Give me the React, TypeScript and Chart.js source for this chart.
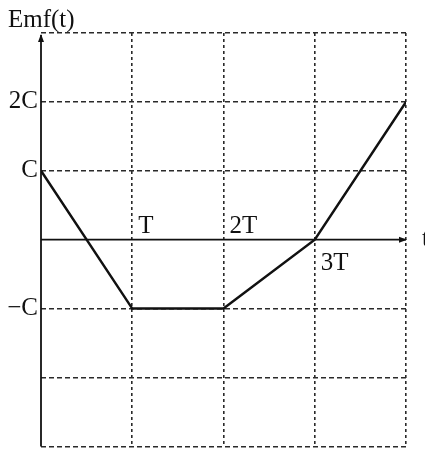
import React, { useEffect, useRef } from "react";
import { Chart, registerables } from "chart.js";
Chart.register(...registerables);

const timeValues = [0, 1, 2, 3, 4];
const emfValues = [1, -1, -1, 0, 2];
const yTickValues = [2, 1, -1];
const yTickLabels = ["2C", "C", "−C"];
const xTickValues = [1, 2, 3];
const xTickLabels = ["T", "2T", "3T"];
const xLabelAbove = [true, true, false];
const yAxisTitle = "Emf(t)";
const xAxisTitle = "t";

const FONT = "'Liberation Serif', 'DejaVu Serif', 'Times New Roman', serif";
const INK = "#111";
const GRID = "#2a2a2a";

export default function App() {
  const ref = useRef<HTMLCanvasElement>(null);

  useEffect(() => {
    const canvas = ref.current!;
    const axesPlugin = {
      id: "axesOverlay",
      afterDatasetsDraw(chart: any) {
        const { ctx, chartArea, scales } = chart;
        const xs = scales.x;
        const ys = scales.y;
        const x0 = xs.getPixelForValue(0);
        const y0 = ys.getPixelForValue(0);
        ctx.save();
        ctx.strokeStyle = INK;
        ctx.fillStyle = INK;
        ctx.lineWidth = 1.8;
        ctx.setLineDash([]);
        // y axis
        ctx.beginPath();
        ctx.moveTo(x0, chartArea.bottom);
        ctx.lineTo(x0, chartArea.top + 2);
        ctx.stroke();
        // x axis
        ctx.beginPath();
        ctx.moveTo(x0, y0);
        ctx.lineTo(chartArea.right, y0);
        ctx.stroke();
        // arrowheads
        ctx.beginPath();
        ctx.moveTo(x0, chartArea.top + 1);
        ctx.lineTo(x0 - 3, chartArea.top + 9);
        ctx.lineTo(x0 + 3, chartArea.top + 9);
        ctx.closePath();
        ctx.fill();
        ctx.beginPath();
        ctx.moveTo(chartArea.right + 1, y0);
        ctx.lineTo(chartArea.right - 7, y0 - 3);
        ctx.lineTo(chartArea.right - 7, y0 + 3);
        ctx.closePath();
        ctx.fill();
        // x labels
        ctx.font = `25px ${FONT}`;
        ctx.textAlign = "left";
        ctx.textBaseline = "alphabetic";
        xTickValues.forEach((v, i) => {
          const px = xs.getPixelForValue(v);
          if (xLabelAbove[i]) ctx.fillText(xTickLabels[i], px + 6, y0 - 7);
          else ctx.fillText(xTickLabels[i], px + 6, y0 + 30);
        });
        ctx.fillText(xAxisTitle, chartArea.right + 16, y0 + 6);
        ctx.fillText(yAxisTitle, 8, chartArea.top - 6);
        ctx.restore();
      },
    };

    const chart = new Chart(canvas, {
      type: "line",
      data: {
        datasets: [
          {
            data: timeValues.map((x, i) => ({ x, y: emfValues[i] })),
            borderColor: INK,
            borderWidth: 2.5,
            pointRadius: 0,
            tension: 0,
            fill: false,
          },
        ],
      },
      options: {
        responsive: false,
        animation: false,
        devicePixelRatio: 1,
        layout: { padding: { top: 33, right: 19, bottom: 3, left: 0 } },
        plugins: { legend: { display: false }, tooltip: { enabled: false } },
        scales: {
          x: {
            type: "linear",
            min: 0,
            max: 4,
            ticks: { display: false, stepSize: 1 },
            grid: {
              color: (c: any) => (c.tick && c.tick.value === 0 ? "transparent" : GRID),
              lineWidth: 1.6,
              drawTicks: false,
            },
            border: { display: false, dash: [3, 3] },
            afterFit: (s: any) => {
              s.height = 0;
            },
          },
          y: {
            type: "linear",
            min: -3,
            max: 3,
            ticks: {
              stepSize: 1,
              autoSkip: false,
              padding: 3,
              color: INK,
              font: (c: any) => ({
                family: FONT,
                size: c.tick && yTickValues.indexOf(Number(c.tick.value)) >= 0 ? 25 : 1,
              }),
              callback: (v: any) => {
                const i = yTickValues.indexOf(Number(v));
                return i >= 0 ? yTickLabels[i] : "";
              },
            },
            grid: {
              color: (c: any) => (c.tick && c.tick.value === 0 ? "transparent" : GRID),
              lineWidth: 1.6,
              drawTicks: false,
            },
            border: { display: false, dash: [5, 3] },
            afterFit: (s: any) => {
              s.width = 41;
            },
          },
        },
      },
      plugins: [axesPlugin],
    } as any);
    return () => chart.destroy();
  }, []);

  return (
    <div style={{ position: "absolute", left: 0, top: 0, width: 425, height: 450, background: "#fff" }}>
      <canvas ref={ref} width={425} height={450} style={{ display: "block" }} />
    </div>
  );
}
